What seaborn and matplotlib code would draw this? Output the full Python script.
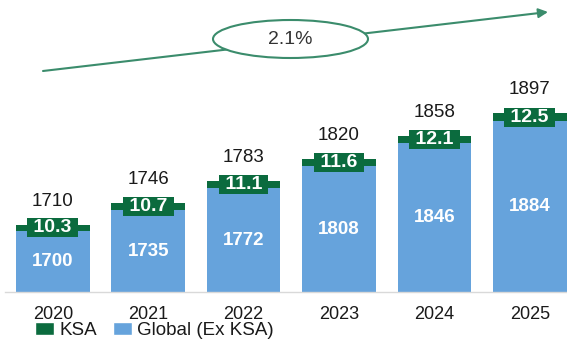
import matplotlib
matplotlib.use("Agg")
import matplotlib.pyplot as plt
from matplotlib.patches import Ellipse, Patch
import pandas as pd
import seaborn as sns

# values
years = ["2020", "2021", "2022", "2023", "2024", "2025"]
global_ex_ksa = [1700, 1735, 1772, 1808, 1846, 1884]
ksa = [10.3, 10.7, 11.1, 11.6, 12.1, 12.5]
totals = [1710, 1746, 1783, 1820, 1858, 1897]
cagr_label = "2.1%"

blue = "#66a3dc"
green = "#0b6b3e"
line_green = "#3b8c6c"

sns.set_theme(style="white")
plt.rcParams["font.family"] = ["Liberation Sans", "DejaVu Sans"]

df = pd.DataFrame({"year": years, "global": global_ex_ksa, "ksa": ksa})
df["stack"] = df["global"] + df["ksa"]

fig = plt.figure(figsize=(5.67, 3.46), dpi=100)
ax = fig.add_axes([0.009, 0.155, 0.991, 0.845])

# KSA stacked on top: draw full height in green, then global in blue over it
sns.barplot(data=df, x="year", y="stack", color=green, width=0.77,
            saturation=1, ax=ax, linewidth=0)
sns.barplot(data=df, x="year", y="global", color=blue, width=0.77,
            saturation=1, ax=ax, linewidth=0)

ax.set_ylim(1597, 2086)
ax.set_xlim(-0.5, 5.39)
ax.set_xlabel("")
ax.set_ylabel("")
ax.set_yticks([])
for s in ["top", "right", "left"]:
    ax.spines[s].set_visible(False)
ax.spines["bottom"].set_color("#d9d9d9")
ax.spines["bottom"].set_linewidth(1)
ax.tick_params(axis="x", length=0, pad=10, labelsize=13, labelcolor="#1a1a1a")

base = ax.get_ylim()[0]
for i in range(len(years)):
    g = global_ex_ksa[i]
    k = ksa[i]
    ax.text(i, (base + g) / 2, str(g), ha="center", va="center",
            color="white", fontsize=13.5, fontweight="bold")
    ax.text(i, g + k / 2, f" {k} ", ha="center", va="center",
            color="white", fontsize=14, fontweight="bold",
            bbox=dict(boxstyle="square,pad=0.05", fc=green, ec="none"))
    ax.annotate(str(totals[i]), xy=(i, g + k), xytext=(0, 17),
                textcoords="offset points", ha="center", va="center",
                fontsize=13.5, color="#1a1a1a")

# growth arrow with CAGR bubble
ov = fig.add_axes([0, 0, 1, 1])
ov.set_xlim(0, 567)
ov.set_ylim(346, 0)
ov.axis("off")
ov.patch.set_alpha(0)
ov.annotate("", xy=(548, 12), xytext=(43, 71), zorder=1,
            arrowprops=dict(arrowstyle="-|>", color=line_green, lw=1.5,
                            mutation_scale=14, shrinkA=0, shrinkB=0))
ov.add_patch(Ellipse((290.5, 39), 155, 38, fc="white", ec=line_green,
                     lw=1.5, zorder=5))
ov.text(290.5, 40, cagr_label, ha="center", va="center", fontsize=14,
        color="#333333", zorder=6)

handles = [Patch(facecolor=green, label="KSA"),
           Patch(facecolor=blue, label="Global (Ex KSA)")]
fig.legend(handles=handles, loc="upper left",
           bbox_to_anchor=(35 / 567, 1 - 322 / 346), ncol=2, frameon=False,
           fontsize=13.5, handlelength=1.0, handleheight=0.7,
           handletextpad=0.3, columnspacing=0.85, borderaxespad=0,
           borderpad=0, labelcolor="#1a1a1a")

fig.savefig("out.png", dpi=100)
